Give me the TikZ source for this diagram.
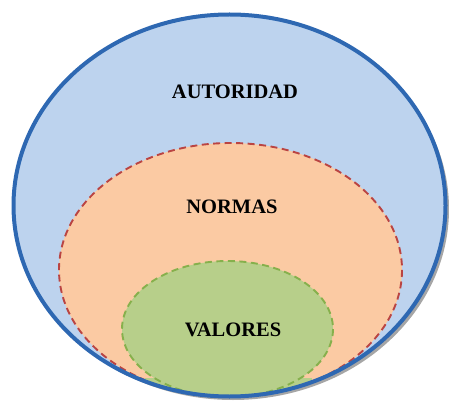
\documentclass[tikz,border=0pt]{standalone}
\usepackage{fontspec}
\setmainfont{Liberation Serif}
\definecolor{outerfill}{HTML}{BDD3EE}
\definecolor{outerline}{HTML}{2E68B2}
\definecolor{midfill}{HTML}{FBCAA3}
\definecolor{midline}{HTML}{BA4442}
\definecolor{innfill}{HTML}{B7CF8A}
\definecolor{innline}{HTML}{86B04C}
\tikzset{
  lbl/.style={font=\bfseries\fontsize{20.5}{24}\selectfont, text=black, inner sep=0pt},
  dashline/.style={line width=1.9pt, dash pattern=on 7pt off 4.5pt},
}
\begin{document}
\begin{tikzpicture}[x=1pt,y=-1pt]
\useasboundingbox (0,0) rectangle (449,403);
% shadow
\fill[gray!70] (233,209) ellipse [x radius=216, y radius=191];
% outer
\fill[outerfill] (229.5,205.5) ellipse [x radius=216, y radius=191];
\begin{scope}
  \clip (229.5,205.5) ellipse [x radius=215, y radius=190];
  \fill[midfill] (230.5,270) ellipse [x radius=171.5, y radius=127];
  \draw[midline, dashline] (230.5,270) ellipse [x radius=171.5, y radius=127];
  \fill[innfill] (227.5,329) ellipse [x radius=105.5, y radius=68];
  \fill[innfill] (145,378) rectangle (312,403);
  \draw[innline, dashline] (227.5,329) ellipse [x radius=105.5, y radius=68];
\end{scope}
\draw[outerline, line width=4pt] (229.5,205.5) ellipse [x radius=216, y radius=191];
\node[lbl] (aut) at (235,92) {AUTORIDAD};
\node[lbl] (nor) at (232,207) {NORMAS};
\node[lbl] (val) at (233,330) {VALORES};
\end{tikzpicture}
\end{document}
